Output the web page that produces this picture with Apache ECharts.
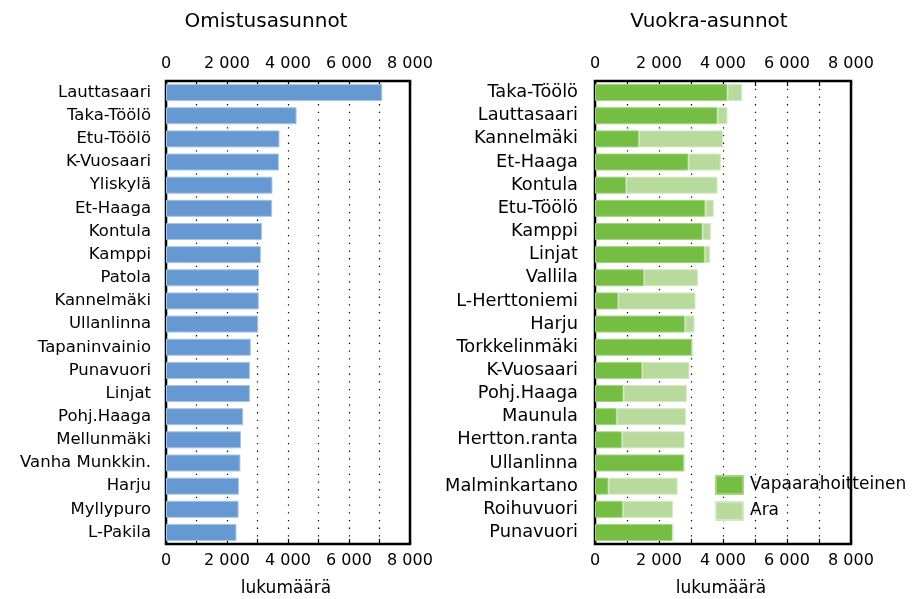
<!DOCTYPE html>
<html>
<head>
    <meta charset="UTF-8">
    <title>Omistus- ja vuokra-asunnot</title>
    <style>
        html, body {margin: 0; padding: 0; background: #fff;}
        #main {width: 912px; height: 599px;}
    </style>
</head>
<body>
<div id="main"></div>
<script src="https://cdn.jsdelivr.net/npm/echarts@6/dist/echarts.min.js"></script>
<script>
    // 数据
    var ownCategories = ['Lauttasaari','Taka-Töölö','Etu-Töölö','K-Vuosaari','Yliskylä','Et-Haaga','Kontula','Kamppi','Patola','Kannelmäki',
        'Ullanlinna','Tapaninvainio','Punavuori','Linjat','Pohj.Haaga','Mellunmäki','Vanha Munkkin.','Harju','Myllypuro','L-Pakila'];
    var ownValues = [7090, 4280, 3720, 3700, 3490, 3480, 3150, 3110, 3050, 3040,
        3020, 2780, 2750, 2750, 2530, 2460, 2440, 2390, 2380, 2310];

    var rentCategories = ['Taka-Töölö','Lauttasaari','Kannelmäki','Et-Haaga','Kontula','Etu-Töölö','Kamppi','Linjat','Vallila','L-Herttoniemi',
        'Harju','Torkkelinmäki','K-Vuosaari','Pohj.Haaga','Maunula','Hertton.ranta','Ullanlinna','Malminkartano','Roihuvuori','Punavuori'];
    var rentFree = [4140, 3830, 1370, 2920, 970, 3450, 3360, 3430, 1530, 720,
        2810, 3040, 1470, 890, 680, 840, 2790, 420, 870, 2430];
    var rentAra = [460, 310, 2630, 1010, 2860, 260, 260, 170, 1690, 2420,
        300, 0, 1480, 1980, 2160, 1960, 0, 2160, 1570, 0];

    var tickValues = ['0', '2 000', '4 000', '6 000', '8 000'];

    var FONT = 'DejaVu Sans';

    function tickLabel(v) {
        if (v % 2000 !== 0) return '';
        return tickValues[v / 2000];
    }

    function valueAxis(grid, pos, showGrid) {
        return {
            type: 'value',
            gridIndex: grid,
            position: pos,
            min: 0,
            max: 8000,
            interval: 1000,
            axisLine: {show: false},
            axisTick: {show: true, inside: true, length: 5, lineStyle: {color: '#000', width: 1.2}},
            axisLabel: {
                show: true,
                margin: 9,
                color: '#000',
                fontFamily: FONT,
                fontSize: 16,
                formatter: tickLabel
            },
            splitLine: {
                show: showGrid,
                lineStyle: {color: '#000', width: 1.2, type: [1.3, 6.4]}
            }
        };
    }

    function catAxis(grid, data, size, margin) {
        return {
            type: 'category',
            gridIndex: grid,
            data: data,
            inverse: true,
            axisLine: {show: false},
            axisTick: {show: false},
            axisLabel: {interval: 0, margin: margin, color: '#000', fontFamily: FONT, fontSize: size}
        };
    }

    var myChart = echarts.init(document.getElementById('main'));
    var option = {
        animation: false,
        backgroundColor: '#fff',
        title: [
            {text: 'Omistusasunnot', left: 261, top: 7, textAlign: 'center',
                textStyle: {fontFamily: FONT, fontSize: 20, fontWeight: 'normal', color: '#000'}},
            {text: 'Vuokra-asunnot', left: 704, top: 7, textAlign: 'center',
                textStyle: {fontFamily: FONT, fontSize: 20, fontWeight: 'normal', color: '#000'}},
            {text: 'lukumäärä', left: 281, top: 575, textAlign: 'center',
                textStyle: {fontFamily: FONT, fontSize: 17, fontWeight: 'normal', color: '#000'}},
            {text: 'lukumäärä', left: 716, top: 575, textAlign: 'center',
                textStyle: {fontFamily: FONT, fontSize: 17, fontWeight: 'normal', color: '#000'}}
        ],
        legend: {
            data: ['Vapaarahoitteinen', 'Ara'],
            orient: 'vertical',
            left: 715,
            top: 475,
            itemWidth: 27,
            itemHeight: 18,
            itemGap: 6,
            icon: 'rect',
            padding: 0,
            textStyle: {fontFamily: FONT, fontSize: 17, color: '#000', padding: [0, 0, 0, 2]}
        },
        grid: [
            {left: 166, right: 502, top: 81, bottom: 55, show: true, borderColor: '#000', borderWidth: 2.5, backgroundColor: 'transparent'},
            {left: 595, right: 61, top: 81, bottom: 55, show: true, borderColor: '#000', borderWidth: 2.5, backgroundColor: 'transparent'}
        ],
        xAxis: [
            valueAxis(0, 'bottom', true),
            valueAxis(0, 'top', false),
            valueAxis(1, 'bottom', true),
            valueAxis(1, 'top', false)
        ],
        yAxis: [
            catAxis(0, ownCategories, 16.5, 15),
            catAxis(1, rentCategories, 17.8, 17)
        ],
        series: [
            {
                name: 'Omistusasunnot',
                type: 'bar',
                xAxisIndex: 0,
                yAxisIndex: 0,
                data: ownValues,
                barWidth: 17,
                itemStyle: {color: '#6699D1', borderColor: '#A6C3E8', borderWidth: 1}
            },
            {
                name: 'Vapaarahoitteinen',
                type: 'bar',
                stack: 'vuokra',
                xAxisIndex: 2,
                yAxisIndex: 1,
                data: rentFree,
                barWidth: 17,
                itemStyle: {color: '#76BD44', borderColor: '#A3D383', borderWidth: 1}
            },
            {
                name: 'Ara',
                type: 'bar',
                stack: 'vuokra',
                xAxisIndex: 2,
                yAxisIndex: 1,
                data: rentAra,
                barWidth: 17,
                itemStyle: {color: '#B8DA9C', borderColor: '#D3E9C2', borderWidth: 1}
            }
        ]
    };
    myChart.setOption(option);
</script>
</body>
</html>
